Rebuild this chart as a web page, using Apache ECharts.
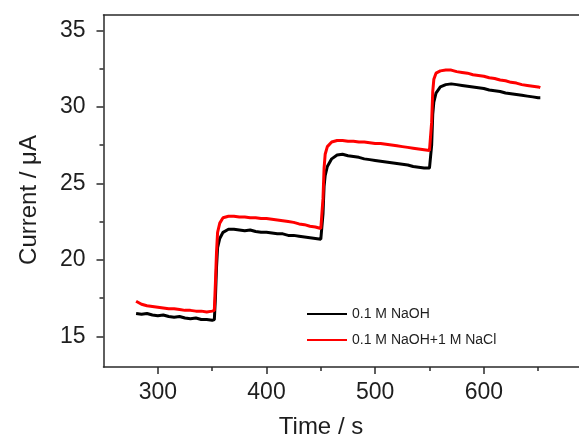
<!DOCTYPE html>
<html>
<head>
<meta charset="utf-8">
<script src="https://cdn.jsdelivr.net/npm/echarts@6/dist/echarts.min.js"></script>
<style>html,body{margin:0;padding:0;background:#fff;}#c{width:579px;height:441px;}</style>
</head>
<body>
<div id="c"></div>
<script>
var times = [280,285,290,295,300,305,310,315,320,325,330,335,340,345,350,
  352,353,354,355,357,
  360,365,370,375,380,385,390,395,400,405,410,415,420,425,430,435,440,445,450,
  451,452,453,454,456,
  460,465,470,475,480,485,490,495,500,505,510,515,520,525,530,535,540,545,550,
  551,552,553,554,556,
  560,565,570,575,580,585,590,595,600,605,610,615,620,625,630,635,640,645,650,
  652];
var naohValues = [16.5,16.45,16.5,16.4,16.35,16.4,16.3,16.25,16.3,16.2,16.15,16.2,16.1,16.1,16.05,
  16.1,17.5,19.5,20.8,21.4,
  21.8,22.0,22.0,21.95,21.9,21.95,21.85,21.8,21.8,21.75,21.7,21.7,21.6,21.6,21.55,21.5,21.45,21.4,21.35,
  21.4,23.0,24.8,25.5,26.1,
  26.6,26.85,26.9,26.8,26.75,26.7,26.6,26.55,26.5,26.45,26.4,26.35,26.3,26.25,26.2,26.1,26.05,26.0,26.0,
  26.1,27.5,29.5,30.3,30.9,
  31.3,31.45,31.5,31.45,31.4,31.35,31.3,31.25,31.2,31.1,31.05,31.0,30.9,30.85,30.8,30.75,30.7,30.65,30.6,
  30.6];
var naclValues = [17.3,17.1,17.0,16.95,16.9,16.85,16.8,16.8,16.75,16.7,16.7,16.65,16.65,16.6,16.65,
  16.7,18.5,20.5,21.8,22.4,
  22.75,22.85,22.85,22.8,22.8,22.75,22.75,22.7,22.7,22.65,22.6,22.55,22.5,22.45,22.35,22.3,22.2,22.15,22.05,
  22.1,24.0,26.0,26.9,27.4,
  27.7,27.8,27.8,27.75,27.75,27.7,27.7,27.65,27.6,27.6,27.55,27.5,27.45,27.4,27.35,27.3,27.25,27.2,27.15,
  27.2,29.0,31.0,31.8,32.2,
  32.35,32.4,32.4,32.3,32.25,32.2,32.1,32.05,32.0,31.9,31.85,31.75,31.7,31.6,31.55,31.45,31.4,31.35,31.3,
  31.25];
var seriesNames = ['0.1 M NaOH', '0.1 M NaOH+1 M NaCl'];
var xMajorTicks = [300,400,500,600];
var xMinorTicks = [350,450,550,650];
var yMajorTicks = [15,20,25,30,35];
var yMinorTicks = [17.5,22.5,27.5,32.5];
var xTitle = 'Time / s';
var yTitle = 'Current / \u03bcA';

function pairs(t, v){ return t.map(function(x,i){ return [x, v[i]]; }); }

var font = 'Liberation Sans, Arial, sans-serif';
var axisColor = '#2a2a2a';
var textColor = '#1e1e1e';
var xMin = 250, xMax = 687.6, yMin = 13, yMax = 36;

var chart = echarts.init(document.getElementById('c'), null, {renderer:'canvas'});
chart.setOption({
  animation: false,
  backgroundColor: '#fff',
  grid: {left: 103.5, right: 0, top: 15, bottom: 74, show: false, containLabel: false},
  legend: {
    orient: 'vertical', left: 302, top: 302, itemWidth: 40, itemHeight: 2, itemGap: 12,
    icon: 'rect',
    textStyle: {fontFamily: font, fontSize: 14, color: textColor},
    data: seriesNames
  },
  xAxis: [{
    type: 'value', min: xMin, max: xMax,
    axisLine: {show: true, lineStyle: {color: axisColor, width: 1.5}},
    axisTick: {show: true, customValues: xMajorTicks, length: 7, lineStyle: {color: axisColor, width: 1.5}},
    axisLabel: {customValues: xMajorTicks, margin: 14, fontFamily: font, fontSize: 23, color: textColor},
    splitLine: {show: false}
  },{
    type: 'value', min: xMin, max: xMax, position: 'bottom',
    axisLine: {show: false},
    axisTick: {show: true, customValues: xMinorTicks, length: 4, lineStyle: {color: axisColor, width: 1.5}},
    axisLabel: {show: false},
    splitLine: {show: false}
  },{
    type: 'value', min: xMin, max: xMax, position: 'top',
    axisLine: {show: true, lineStyle: {color: axisColor, width: 1.5}},
    axisTick: {show: false},
    axisLabel: {show: false},
    splitLine: {show: false}
  }],
  yAxis: [{
    type: 'value', min: yMin, max: yMax,
    axisLine: {show: true, lineStyle: {color: axisColor, width: 1.5}},
    axisTick: {show: true, customValues: yMajorTicks, length: 7, lineStyle: {color: axisColor, width: 1.5}},
    axisLabel: {customValues: yMajorTicks, margin: 18, fontFamily: font, fontSize: 23, color: textColor},
    splitLine: {show: false}
  },{
    type: 'value', min: yMin, max: yMax, position: 'left',
    axisLine: {show: false},
    axisTick: {show: true, customValues: yMinorTicks, length: 4, lineStyle: {color: axisColor, width: 1.5}},
    axisLabel: {show: false},
    splitLine: {show: false}
  }],
  graphic: [
    {type: 'text', x: 321, y: 427, style: {text: xTitle, font: '24px ' + font, fill: textColor, textAlign: 'center', textVerticalAlign: 'middle'}},
    {type: 'text', x: 29, y: 200, rotation: Math.PI/2, style: {text: yTitle, font: '24px ' + font, fill: textColor, textAlign: 'center', textVerticalAlign: 'middle'}}
  ],
  series: [
    {name: seriesNames[0], type: 'line', data: pairs(times, naohValues), showSymbol: false, symbol: 'none',
     lineStyle: {color: '#000', width: 3}, itemStyle: {color: '#000'}},
    {name: seriesNames[1], type: 'line', data: pairs(times, naclValues), showSymbol: false, symbol: 'none',
     lineStyle: {color: '#f00', width: 3}, itemStyle: {color: '#f00'}}
  ]
});
</script>
</body>
</html>
